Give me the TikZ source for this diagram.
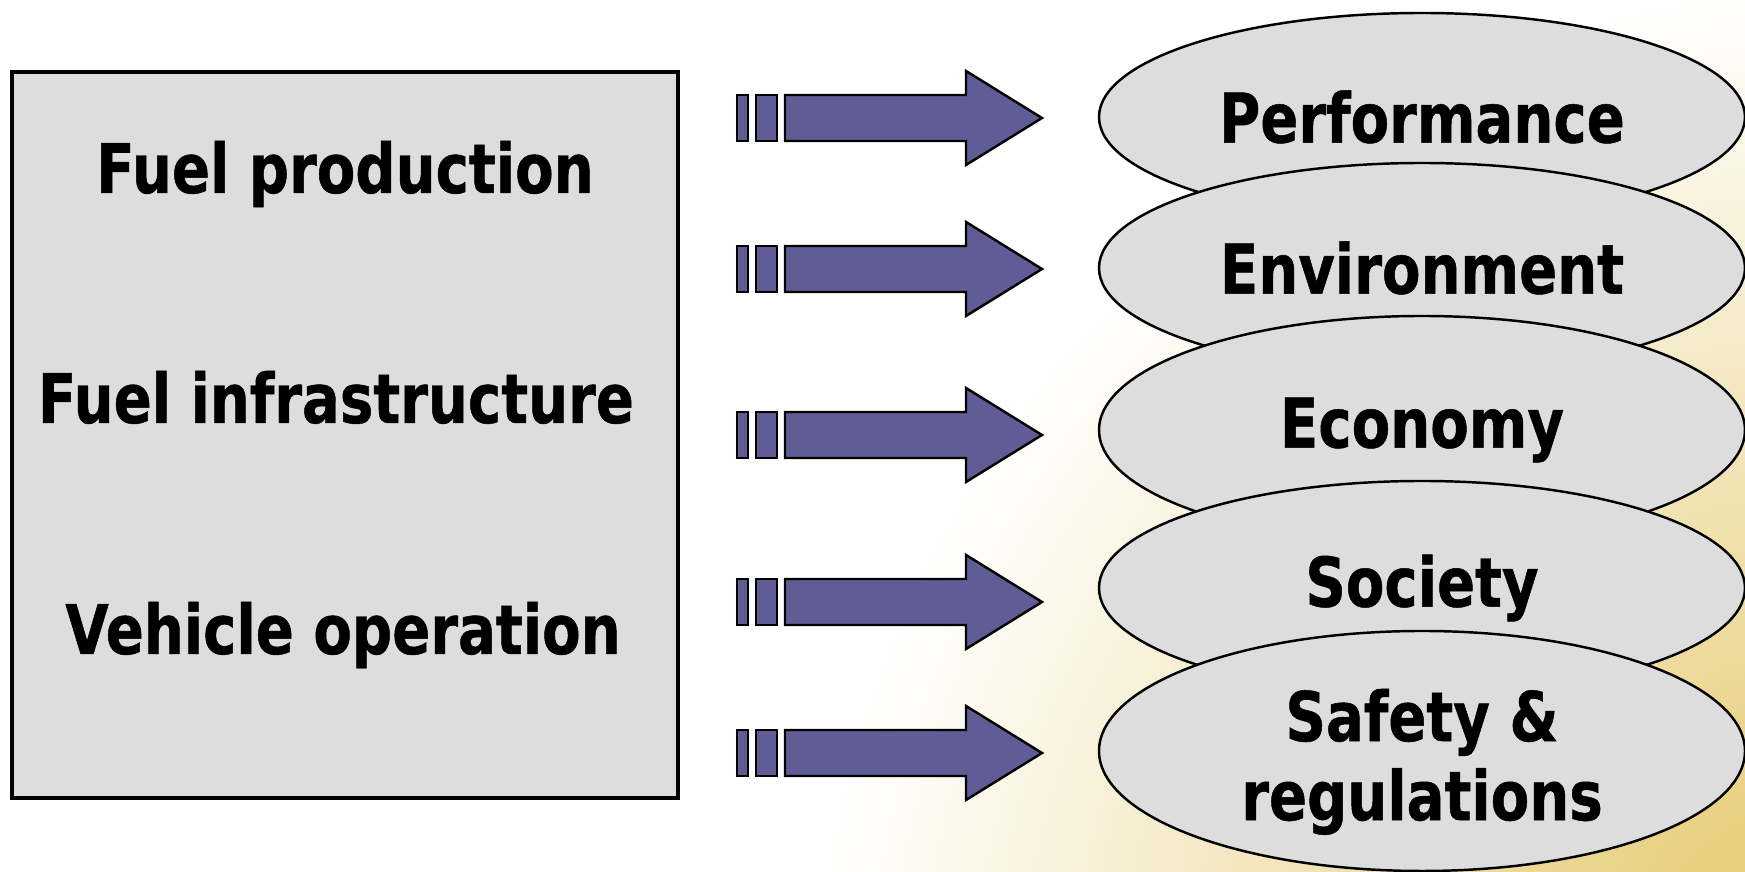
\documentclass[tikz,border=0pt]{standalone}
\usepackage{fontspec}
\usepackage{xcolor}
\usepackage{tikz}
\usetikzlibrary{positioning,calc,shapes.geometric}
\newfontfamily\slidefont{DejaVu Sans}[FakeStretch=0.82, FakeBold=0.7]
\definecolor{arrowColor}{RGB}{96,92,150}
\definecolor{shapeColor}{RGB}{221,221,221}
\definecolor{bgColor}{RGB}{226,194,92}
\tikzset{
    stagebox/.style={
        draw,
        line width=0.9pt,
        fill=shapeColor,
        minimum width=6.66cm,
        minimum height=7.26cm,
        inner sep=0
    },
    stagetext/.style={
        font=\slidefont\bfseries\fontsize{19.5}{23}\selectfont,
        anchor=base
    },
    impact/.style={
        ellipse,
        draw,
        line width=0.7pt,
        fill=shapeColor,
        minimum width=6.46cm,
        inner sep=0,
        align=center,
        font=\slidefont\bfseries\fontsize{19.5}{22.5}\selectfont
    },
    stripearrow/.pic={
        \filldraw[fill=arrowColor, draw=black, line width=0.7pt] (0,-0.23) rectangle (0.11,0.23);
        \filldraw[fill=arrowColor, draw=black, line width=0.7pt] (0.19,-0.23) rectangle (0.40,0.23);
        \filldraw[fill=arrowColor, draw=black, line width=0.7pt, line join=miter]
            (0.48,-0.23) -- (2.29,-0.23) -- (2.29,-0.47) -- (3.05,0)
            -- (2.29,0.47) -- (2.29,0.23) -- (0.48,0.23) -- cycle;
    }
}

\begin{document}
\begin{tikzpicture}
    \useasboundingbox (0,0) rectangle (17.45,8.72);
    \fill[white] (0,0) rectangle (17.45,8.72);
    \begin{scope}
        \clip (0,0) rectangle (17.45,8.72);
        \shade[inner color=bgColor, outer color=white] (18.6,-1.6) circle (10.5);
    \end{scope}

    \node[stagebox] (stages) at (3.45,4.37) {};
    \node[stagetext] (production) at (3.45,6.79) {Fuel production};
    \node[stagetext] (infra) at (3.36,4.49) {Fuel infrastructure};
    \node[stagetext] (operation) at (3.43,2.18) {Vehicle operation};

    \node[impact, minimum height=2.08cm] (perf) at (14.22,7.55) {Performance};
    \node[impact, minimum height=2.10cm] (env) at (14.22,6.04) {Environment};
    \node[impact, minimum height=2.28cm] (econ) at (14.22,4.42) {Economy};
    \node[impact, minimum height=2.14cm] (soc) at (14.22,2.84) {Society};
    \node[impact, minimum height=2.40cm] (safety) at (14.22,1.21) {\rule{0pt}{0.74cm}Safety \&\\regulations};

    \pic at (7.37,7.54) {stripearrow};
    \pic at (7.37,6.03) {stripearrow};
    \pic at (7.37,4.37) {stripearrow};
    \pic at (7.37,2.70) {stripearrow};
    \pic at (7.37,1.19) {stripearrow};
\end{tikzpicture}
\end{document}
